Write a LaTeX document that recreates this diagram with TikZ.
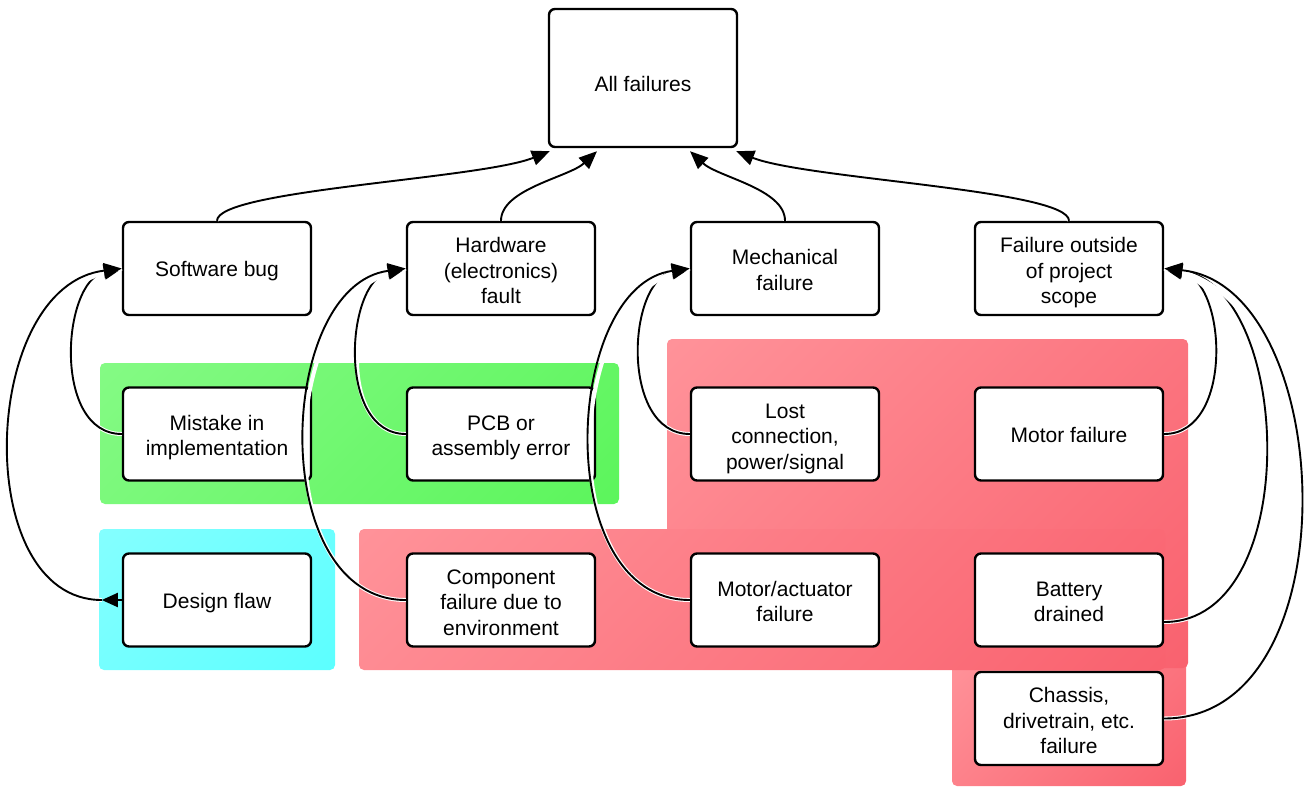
\documentclass[tikz,border=0pt]{standalone}
\usepackage{fontspec}
\setmainfont{Liberation Sans}
\usetikzlibrary{arrows.meta,calc}
\definecolor{gTL}{RGB}{132,250,132}
\definecolor{gBR}{RGB}{92,245,92}
\definecolor{cTL}{RGB}{132,255,255}
\definecolor{cBR}{RGB}{92,255,255}
\definecolor{rTL}{RGB}{255,146,153}
\definecolor{rBR}{RGB}{249,98,111}
\pgfdeclareverticalshading{redsh}{100bp}{color(0bp)=(rBR); color(15bp)=(rBR); color(85bp)=(rTL); color(100bp)=(rTL)}
\pgfdeclareverticalshading{greensh}{100bp}{color(0bp)=(gBR); color(15bp)=(gBR); color(85bp)=(gTL); color(100bp)=(gTL)}
\pgfdeclareverticalshading{cyansh}{100bp}{color(0bp)=(cBR); color(15bp)=(cBR); color(85bp)=(cTL); color(100bp)=(cTL)}
\begin{document}
\begin{tikzpicture}[x=1pt,y=-1pt,
  box/.style={draw=black, line width=2.4pt, fill=white, rounded corners=6pt,
    minimum width=188pt, minimum height=93pt, align=center, inner sep=0pt,
    font=\fontsize{21}{25.5}\selectfont,
    execute at begin node={\rule{0pt}{20.5pt}},
    execute at end node={\rule[-4.5pt]{0pt}{0pt}}},
  two/.style={execute at begin node={\rule{0pt}{47.5pt}}},
  three/.style={execute at begin node={\rule{0pt}{74.5pt}}},
  conn/.style={line width=1.9pt, -{Triangle[length=18pt,width=15pt]},
    preaction={draw=white, line width=4pt, -}},
  arr/.style={line width=1.9pt, -{Triangle[length=16pt,width=14pt]}},
  region/.style={rounded corners=5pt, shading angle=45}
]
\useasboundingbox (0,0) rectangle (1305,787);
% coloured regions
\shade[region, shading=greensh] (100,363) rectangle (619,504);
\shade[region, shading=cyansh] (99,529) rectangle (335,670);
\shade[region, shading=redsh] (952,660) rectangle (1186,786);
\shade[region, shading=redsh] (667,339) rectangle (1188,668);
\shade[region, shading=redsh] (359,529) rectangle (1165,670);
% nodes
\node[box, minimum height=138pt, execute at begin node={\rule{0pt}{31.5pt}}] (all) at (643,78) {All failures};
\node[box] (sw)   at (217,268.5) {Software bug};
\node[box, three] (hw)   at (501,268.5) {Hardware\\(electronics)\\fault};
\node[box, two] (mech) at (785,268.5) {Mechanical\\failure};
\node[box, three] (fo)   at (1069,268.5) {Failure outside\\of project\\scope};
\node[box, two] (mis)  at (217,434) {Mistake in\\implementation};
\node[box, two] (pcb)  at (501,434) {PCB or\\assembly error};
\node[box, three] (lost) at (785,434) {Lost\\connection,\\power/signal};
\node[box] (motf) at (1069,434) {Motor failure};
\node[box] (df)   at (217,600) {Design flaw};
\node[box, three] (comp) at (501,600) {Component\\failure due to\\environment};
\node[box, two] (mact) at (785,600) {Motor/actuator\\failure};
\node[box, two] (bat)  at (1069,600) {Battery\\drained};
\node[box, three] (chas) at (1069,718.5) {Chassis,\\drivetrain, etc.\\failure};
% tip points
\coordinate (t1) at ($(all.south west)+(2,3)$);
\coordinate (t2) at ($(all.south)+(-46,3)$);
\coordinate (t3) at ($(all.south)+(47,3)$);
\coordinate (t4) at ($(all.south east)+(-2,3)$);
\coordinate (dfa) at ($(df.west)+(-20,0)$);
\coordinate (batc) at ($(bat.east)+(0,22)$);
% top connectors
\draw[conn] (sw.north) .. controls +(0,-31) and +(-70,28) .. (t1);
\draw[conn] (hw.north) .. controls +(0,-32) and +(-28,26) .. (t2);
\draw[conn] (mech.north) .. controls +(0,-32) and +(28,26) .. (t3);
\draw[conn] (fo.north) .. controls +(0,-31) and +(70,28) .. (t4);
% side connectors
\draw[conn] (mis.west) .. controls +(-70,0) and +(-60,12) .. (sw.west);
\draw[arr] (df.west) -- (dfa);
\draw[conn] (dfa) .. controls +(-132,0) and +(-142,17) .. (sw.west);
\draw[conn] (pcb.west) .. controls +(-70,0) and +(-60,12) .. (hw.west);
\draw[conn] (comp.west) .. controls +(-140,0) and +(-130,17) .. (hw.west);
\draw[conn] (lost.west) .. controls +(-70,0) and +(-63,12) .. (mech.west);
\draw[conn] (mact.west) .. controls +(-140,0) and +(-127,17) .. (mech.west);
\draw[conn] (motf.east) .. controls +(70,0) and +(63,12) .. (fo.east);
\draw[conn] (batc) .. controls +(140,0) and +(129,17) .. (fo.east);
\draw[conn] (chas.east) .. controls +(190,0) and +(173,17) .. (fo.east);
\end{tikzpicture}
\end{document}
